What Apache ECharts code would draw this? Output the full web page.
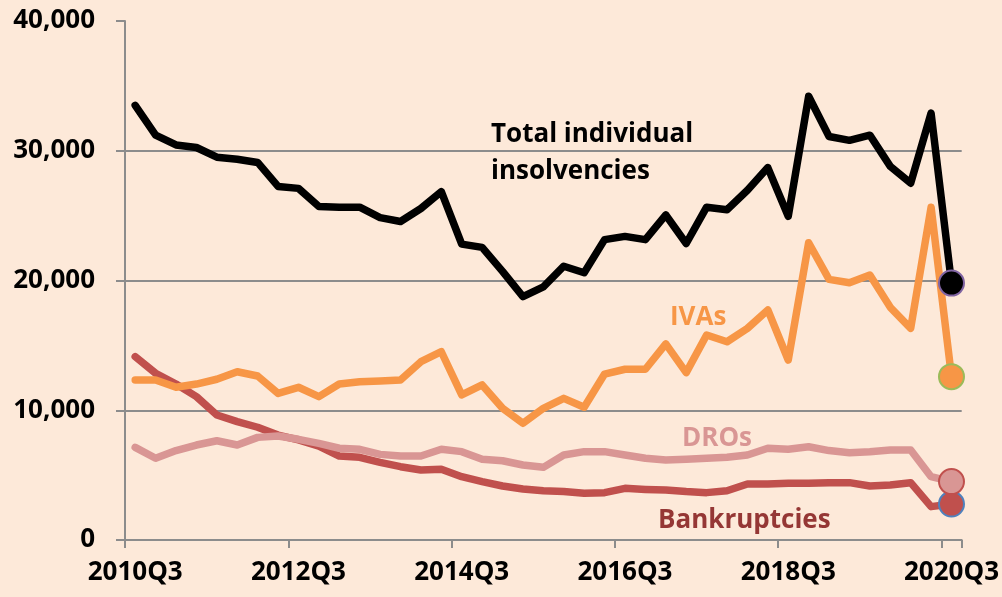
<!DOCTYPE html>
<html>
<head>
<meta charset="utf-8">
<title>Individual insolvencies</title>
<script src="https://cdn.jsdelivr.net/npm/echarts@6/dist/echarts.min.js"></script>
<style>
  html, body { margin: 0; padding: 0; background: #FDE9D9; }
  #chart { width: 1002px; height: 597px; }
</style>
</head>
<body>
<div id="chart"></div>
<script>
// quarters, 2010Q3 .. 2020Q3
var quarters = [
  '2010Q3', '2010Q4', '2011Q1', '2011Q2', '2011Q3', '2011Q4', '2012Q1', '2012Q2',
  '2012Q3', '2012Q4', '2013Q1', '2013Q2', '2013Q3', '2013Q4', '2014Q1', '2014Q2',
  '2014Q3', '2014Q4', '2015Q1', '2015Q2', '2015Q3', '2015Q4', '2016Q1', '2016Q2',
  '2016Q3', '2016Q4', '2017Q1', '2017Q2', '2017Q3', '2017Q4', '2018Q1', '2018Q2',
  '2018Q3', '2018Q4', '2019Q1', '2019Q2', '2019Q3', '2019Q4', '2020Q1', '2020Q2',
  '2020Q3'
];

var totalInsolvencies = [
  33500, 31200, 30450, 30250, 29500, 29350, 29100, 27250, 27100, 25700,
  25650, 25650, 24850, 24550, 25550, 26850, 22800, 22550, 20700, 18750,
  19500, 21100, 20600, 23150, 23400, 23150, 25050, 22850, 25650, 25450,
  26950, 28700, 24950, 34200, 31100, 30800, 31200, 28800, 27500, 32900,
  19800
];

var ivas = [
  12330, 12330, 11770, 12020, 12390, 12970, 12640, 11300, 11770, 11050,
  12020, 12200, 12250, 12330, 13740, 14510, 11180, 11950, 10150, 8990,
  10150, 10920, 10230, 12790, 13160, 13160, 15110, 12900, 15800, 15280,
  16310, 17730, 13870, 22910, 20090, 19830, 20420, 17930, 16310, 25640,
  12590
];

var dros = [
  7140, 6300, 6890, 7320, 7650, 7320, 7910, 8020, 7760, 7450,
  7070, 6990, 6600, 6470, 6470, 6990, 6810, 6220, 6110, 5780,
  5600, 6550, 6810, 6810, 6550, 6300, 6170, 6220, 6300, 6370,
  6550, 7070, 6990, 7190, 6890, 6730, 6810, 6940, 6940, 4880,
  4500
];

var bankruptcies = [
  14130, 12850, 12020, 11050, 9630, 9120, 8690, 8090, 7710, 7240,
  6470, 6370, 5980, 5650, 5390, 5450, 4880, 4500, 4160, 3930,
  3800, 3730, 3600, 3650, 3980, 3900, 3850, 3730, 3650, 3800,
  4320, 4320, 4370, 4370, 4420, 4420, 4160, 4240, 4420, 2570,
  2770
];

var yTicks = [0, 10000, 20000, 30000, 40000];

var chart = echarts.init(document.getElementById('chart'), null, { renderer: 'canvas' });

var FONT = '"Open Sans", "DejaVu Sans", sans-serif';
var GRID_GREY = '#8C8C8C';

// only the last point of each line gets a round marker
function withEndMarker(values, fill, border) {
  return values.map(function (v, i) {
    if (i !== values.length - 1) return v;
    return {
      value: v,
      symbol: 'circle',
      symbolSize: 25,
      itemStyle: { color: fill, borderColor: border, borderWidth: 2 }
    };
  });
}

function lineSeries(name, values, color, border) {
  return {
    name: name,
    type: 'line',
    symbol: 'none',
    showSymbol: true,
    showAllSymbol: true,
    lineStyle: { color: color, width: 7.5, join: 'round', cap: 'round' },
    itemStyle: { color: color },
    emphasis: { disabled: true },
    data: withEndMarker(values, color, border)
  };
}

function label(text, x, y, color, size) {
  return {
    type: 'text',
    left: x,
    top: y,
    style: {
      text: text,
      fill: color,
      font: 'bold ' + size + 'px ' + FONT
    }
  };
}

var option = {
  backgroundColor: '#FDE9D9',
  animation: false,
  grid: { left: 125, right: 40, top: 21, bottom: 57, containLabel: false },
  xAxis: {
    type: 'category',
    data: quarters,
    boundaryGap: true,
    axisLine: { lineStyle: { color: GRID_GREY, width: 2 } },
    axisTick: { show: true, interval: 7, length: 8, lineStyle: { color: GRID_GREY, width: 2 } },
    axisLabel: {
      interval: 7,
      margin: 20,
      color: '#000',
      fontFamily: FONT,
      fontWeight: 'bold',
      fontSize: 26
    },
    splitLine: { show: false }
  },
  yAxis: {
    type: 'value',
    min: yTicks[0],
    max: yTicks[yTicks.length - 1],
    interval: 10000,
    axisLine: { show: true, lineStyle: { color: GRID_GREY, width: 2 } },
    axisTick: { show: true, length: 9, lineStyle: { color: GRID_GREY, width: 2 } },
    axisLabel: {
      margin: 30,
      color: '#000',
      fontFamily: FONT,
      fontWeight: 'bold',
      fontSize: 26,
      formatter: function (v) { return v.toLocaleString('en-US'); }
    },
    splitLine: {
      show: true,
      lineStyle: {
        color: [GRID_GREY, GRID_GREY, GRID_GREY, GRID_GREY, 'rgba(0,0,0,0)'],
        width: 2
      }
    }
  },
  series: [
    lineSeries('Bankruptcies', bankruptcies, '#C0504D', '#4F81BD'),
    lineSeries('DROs', dros, '#D99694', '#C0504D'),
    lineSeries('IVAs', ivas, '#F79646', '#9BBB59'),
    lineSeries('Total individual insolvencies', totalInsolvencies, '#000000', '#8064A2')
  ],
  graphic: [
    label('Total individual', 491, 122, '#000000', 26),
    label('insolvencies', 491, 159, '#000000', 26),
    label('IVAs', 670, 305, '#F79646', 26),
    label('DROs', 682, 426, '#D99694', 26),
    label('Bankruptcies', 658, 508, '#953735', 26)
  ]
};

chart.setOption(option);
</script>
</body>
</html>
